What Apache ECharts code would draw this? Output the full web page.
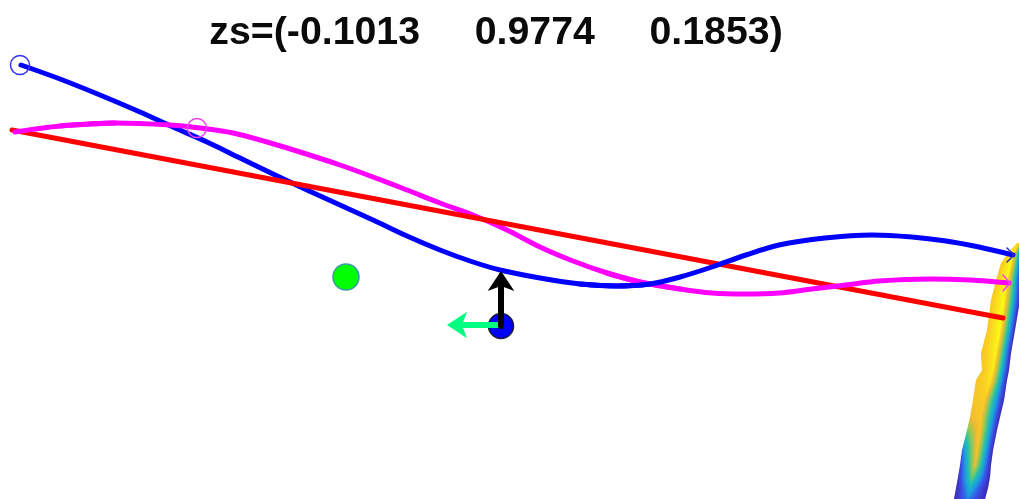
<!DOCTYPE html>
<html><head><meta charset="utf-8">
<style>html,body{margin:0;padding:0;background:#fff}#c{width:1019px;height:499px}</style>
<script src="https://cdn.jsdelivr.net/npm/echarts@6/dist/echarts.min.js"></script>
</head><body><div id="c"></div>
<script>
const titleText = 'zs=(-0.1013     0.9774     0.1853)';
const blueNear = [[21,65],[60,79],[100,95],[140,112],[173,127],[207,142],[240,158],[273,174],[307,190],[340,205],[373,220],[407,236],[440,250],[470,261],[500,270],[540,278],[580,284],[617,286],[650,284]];
const blueFar = [[580,284],[617,286],[650,284],[680,277],[712,267],[746,255],[779,245],[825,238],[872,235],[912,237],[946,241],[979,247],[1013,255]];
const magentaStart = [[15,132],[60,126],[115,123]];
const magentaMid = [[60,126],[115,123],[170,125],[200,128],[233,133],[267,142],[300,152],[340,165],[373,177],[407,190],[440,203],[473,215],[507,230],[540,247],[573,261],[607,273],[640,282],[680,289]];
const magentaFar = [[607,273],[640,282],[680,289],[712,293],[745,294],[779,293],[812,289],[846,285],[879,281],[930,279],[970,280],[1009,283]];
const redLine = [[12,130],[1003,318]];
const blueHead = [[1007,248],[1014,255],[1007,262]];
const magentaHead = [[1003,275],[1010,283],[1003,291]];
const blackShaft = [[501,326],[501,285]];
const greenShaft = [[501,325],[462,325]];
const blackTip = [501,271];
const greenTip = [447,325];
const blueOpen = [20,65];
const magentaOpen = [197,128];
const greenDot = [346,277];
const blueDot = [501,326];
const surfY     = [243, 253, 263, 280, 300, 330, 353, 370, 380, 400, 417, 430, 450, 465, 477, 488, 499];
const surfLeft  = [1017,1008,1001, 996, 991, 987, 981, 982, 976, 973, 970, 967, 962, 960, 958, 956, 954];
const surfRidge = [1019,1014,1011,1007,1004,1000, 996, 993, 991, 984, 981, 980, 977, 975, 972, 970, 968];
const surfRight = [1021,1022,1022,1021,1020,1015,1011,1009,1007,1004,1000, 997, 993, 991, 990, 988, 985];
const surfPeak  = [0.95,0.97,1.00,1.00,1.00,1.00,0.98,0.97,0.95,0.90,0.88,0.87,0.86,0.80,0.62,0.42,0.30];
const surfEdgeL = [0.88,0.88,0.88,0.88,0.88,0.88,0.86,0.86,0.85,0.85,0.80,0.62,0.25,0.12,0.05,0.02,0.02];
const surfEdgeR = [0.30,0.10,0.05,0.02,0.02,0.02,0.02,0.02,0.02,0.02,0.02,0.02,0.02,0.02,0.02,0.02,0.02];
const paletteStops = [[0,[61,38,168]],[0.2,[58,80,235]],[0.35,[27,158,224]],[0.5,[31,191,176]],[0.65,[127,203,96]],[0.8,[240,185,50]],[0.9,[250,205,35]],[1,[249,251,21]]];

function colorAt(v){
  for(let i=1;i<paletteStops.length;i++){
    const a=paletteStops[i-1],b=paletteStops[i];
    if(v<=b[0]){const t=(v-a[0])/(b[0]-a[0]);
      return 'rgb('+a[1].map((c,k)=>Math.round(c+(b[1][k]-c)*t)).join(',')+')';}
  }
  return 'rgb(249,251,21)';
}
function stripStops(l,ridge,r,vl,vp,vr){
  const p=(ridge-l)/(r-l),st=[];
  for(let k=0;k<=6;k++){const t=k/6;st.push({offset:p*t,color:colorAt(vl+(vp-vl)*t)});}
  for(let k=1;k<=8;k++){const t=k/8;st.push({offset:p+(1-p)*t,color:colorAt(vp+(vr-vp)*Math.pow(t,1.0))});}
  return st;
}
const mix=(arr,i,t)=>arr[i]+(arr[i+1]-arr[i])*t;
const lineS=(data,color,width,z)=>({type:'line',data,symbol:'none',smooth:false,z,silent:true,
  lineStyle:{color,width,cap:'round',join:'round'}});
const smoothS=(data,color,width,z)=>Object.assign(lineS(data,color,width,z),{smooth:0.33});
const dotS=(pt,symbol,size,style,z,rotate)=>({type:'scatter',data:[pt],symbol,symbolSize:size,symbolRotate:rotate||0,
  itemStyle:Object.assign({opacity:1},style),z,silent:true});

const chart=echarts.init(document.getElementById('c'),null,{renderer:'canvas'});
chart.setOption({
  animation:false,backgroundColor:'#fff',
  title:{text:titleText,left:491,top:9,textAlign:'center',
    textStyle:{fontFamily:'"Liberation Sans"',fontWeight:'bold',fontSize:39.3,color:'#0a0a0a'}},
  grid:{left:0,right:0,top:0,bottom:0},
  xAxis:{type:'value',min:0,max:1019,show:false},
  yAxis:{type:'value',min:0,max:499,inverse:true,show:false},
  series:[
    {type:'custom',z:1,silent:true,clip:true,data:surfY.slice(0,-1).map((y,i)=>[i]),encode:{x:-1,y:-1},
     renderItem(params,api){
       const i=params.dataIndex,h=surfY[i+1]-surfY[i],kids=[];
       for(let s=0;s<h;s++){
         const t0=s/h,t1=(s+1)/h,
           a0=mix(surfLeft,i,t0),a1=mix(surfLeft,i,t1),
           b0=mix(surfRight,i,t0),b1=mix(surfRight,i,t1),
           pts=[[a0,surfY[i]+s],[b0,surfY[i]+s],[b1,surfY[i]+s+1.3],[a1,surfY[i]+s+1.3]].map(p=>api.coord(p)),
           stops=stripStops(a0,mix(surfRidge,i,t0),b0,mix(surfEdgeL,i,t0),mix(surfPeak,i,t0),mix(surfEdgeR,i,t0));
         kids.push({type:'polygon',shape:{points:pts},style:{fill:new echarts.graphic.LinearGradient(0,0,1,0,stops)}});
       }
       return {type:'group',children:kids};
     }},
    smoothS(blueNear,'#0000ff',5,3),
    smoothS(magentaMid,'#ff00ff',5,4),
    lineS(redLine,'#ff0000',5,5),
    smoothS(magentaStart,'#ff00ff',5,5.5),
    smoothS(magentaFar,'#ff00ff',5,5.5),
    smoothS(blueFar,'#0000ff',5,6),
    lineS(blueHead,'#3030b0',1.5,6),
    lineS(magentaHead,'#ff40ff',1.5,6),
    dotS(blueOpen,'circle',19,{color:'transparent',borderColor:'#3333ee',borderWidth:1.5},7),
    dotS(magentaOpen,'circle',19,{color:'transparent',borderColor:'#ee44ee',borderWidth:1.5},7),
    dotS(greenDot,'circle',26,{color:'#00ff00',borderColor:'#3c9aa8',borderWidth:1.5},7),
    dotS(blueDot,'circle',25,{color:'#0000ff',borderColor:'#1a1a3a',borderWidth:1.5},7),
    lineS(greenShaft,'#00ff80',6,8),
    dotS(greenTip,'arrow',[20,20],{color:'#00ff80'},8,90),
    lineS(blackShaft,'#000000',6,9),
    dotS(blackTip,'arrow',[20,20],{color:'#000000'},9,0)
  ]
});
</script></body></html>
